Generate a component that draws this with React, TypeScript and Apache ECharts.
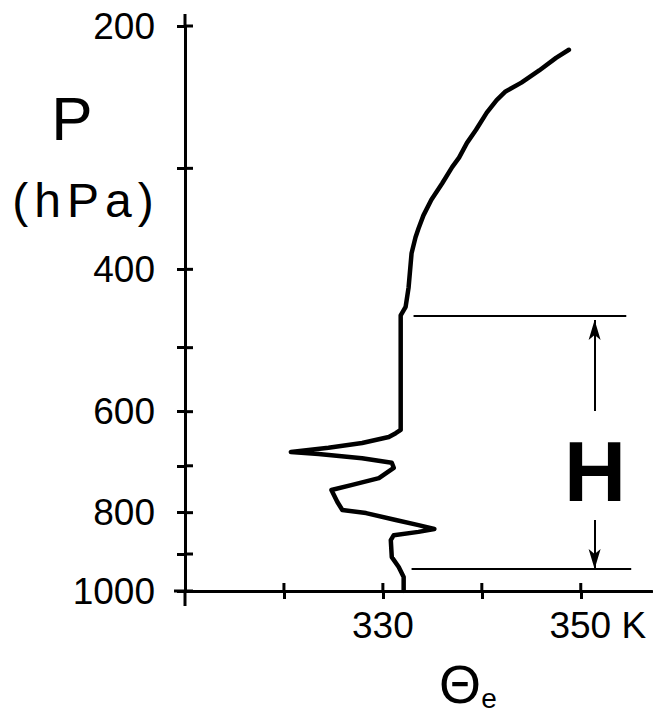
import React, { useEffect, useRef } from "react";
import * as echarts from "echarts";

// Pressure axis (hPa, log scale, inverted)
const PRESSURE_TICKS = [200, 300, 400, 500, 600, 700, 800, 900, 1000];
const PRESSURE_LABELS = [200, 400, 600, 800, 1000];
// Theta-e axis (K)
const THETA_TICKS = [320, 330, 340, 350];
const THETA_LABELS = [330, 350];
const THETA_MIN = 310;
const THETA_MAX = 357.2;
const P_MIN = 200;
const P_MAX = 1000;

// Sounding profile: equivalent potential temperature (K) vs pressure (hPa)
const thetaE = [
  348.8, 347.5, 345.8, 344.0, 342.4, 341.5, 340.5, 339.4, 338.5, 337.7, 337.0,
  336.0, 334.9, 334.1, 333.6, 333.3, 332.9, 332.6, 332.3, 331.8, 331.8, 331.8,
  331.3, 330.6, 327.9, 324.5, 320.7, 323.5, 327.9, 330.9, 331.1, 329.6, 326.9,
  324.8, 325.4, 325.9, 328.3, 331.3, 333.6, 335.2, 333.6, 331.1, 330.8, 330.9,
  331.6, 332.1, 332.1,
];
const pressure = [
  214, 219, 227, 235, 241, 247, 256, 269, 279, 291, 299,
  313, 328, 343, 356, 365, 382, 421, 445, 456, 480, 632,
  638, 645, 656, 665, 673, 677, 685, 694, 704, 725, 739,
  750, 776, 794, 801, 817, 829, 838, 845, 853, 865, 908,
  934, 961, 1000,
];

// Layer "H" markers
const LAYER_TOP_P = 456;
const LAYER_BOTTOM_P = 939;
const LAYER_TOP_X = [333.1, 354.6];
const LAYER_BOTTOM_X = [332.9, 355.1];
const ARROW_X = 351.4;
const ARROW_UP = [599, 462];
const ARROW_DOWN = [817, 939];

const FONT = "'Liberation Sans', Arial, Helvetica, sans-serif";

export default function App() {
  const ref = useRef<HTMLDivElement>(null);

  useEffect(() => {
    document.body.style.margin = "0";
    const chart = echarts.init(ref.current!, null, { renderer: "svg" });
    const data = thetaE.map((t, i) => [t, pressure[i]]);
    const tickStyle = { color: "#000", width: 3 };

    // inner halves of the crossing tick marks, placed through the axes' scales
    const innerTicks = (values: number[][], dir: "x" | "y") => ({
      type: "custom",
      coordinateSystem: "cartesian2d",
      silent: true,
      clip: false,
      z: 10,
      data: values,
      renderItem: (_params: any, api: any) => {
        const pt = api.coord([api.value(0), api.value(1)]);
        const shape =
          dir === "y"
            ? { x1: pt[0], y1: pt[1], x2: pt[0] + 8, y2: pt[1] }
            : { x1: pt[0], y1: pt[1], x2: pt[0], y2: pt[1] - 8 };
        return { type: "line", shape, style: { stroke: "#000", lineWidth: 3 } };
      },
    });

    chart.setOption({
      animation: false,
      textStyle: { fontFamily: FONT },
      grid: { left: 185, right: 1, top: 26, bottom: 122, containLabel: false },
      xAxis: {
        type: "value",
        min: THETA_MIN,
        max: THETA_MAX,
        splitLine: { show: false },
        axisLine: { show: true, onZero: false, lineStyle: { color: "#000", width: 3 } },
        axisTick: { show: true, customValues: THETA_TICKS, length: 8, lineStyle: tickStyle },
        axisLabel: {
          show: true,
          customValues: THETA_LABELS,
          margin: 16,
          color: "#000",
          fontSize: 37,
          fontFamily: FONT,
          formatter: (v: number) => (v === 350 ? "{p|\u00a0}350 K" : String(v)),
          rich: { p: { width: 34, fontSize: 37 } },
        },
      },
      yAxis: {
        type: "log",
        logBase: 10,
        min: P_MIN,
        max: P_MAX,
        inverse: true,
        splitLine: { show: false },
        axisLine: { show: true, onZero: false, lineStyle: { color: "#000", width: 3 } },
        axisTick: { show: true, customValues: PRESSURE_TICKS, length: 8, lineStyle: tickStyle },
        axisLabel: {
          show: true,
          customValues: PRESSURE_LABELS,
          margin: 30,
          color: "#000",
          fontSize: 37,
          fontFamily: FONT,
          formatter: (v: number) => String(Math.round(v)),
        },
      },
      series: [
        {
          type: "line",
          data,
          showSymbol: false,
          symbol: "none",
          lineStyle: { color: "#000", width: 4.5, join: "round", cap: "round" },
          markLine: {
            silent: true,
            symbol: ["none", "none"],
            label: { show: false },
            lineStyle: { color: "#000", width: 2, type: "solid" },
            data: [
              [{ coord: [LAYER_TOP_X[0], LAYER_TOP_P] }, { coord: [LAYER_TOP_X[1], LAYER_TOP_P] }],
              [{ coord: [LAYER_BOTTOM_X[0], LAYER_BOTTOM_P] }, { coord: [LAYER_BOTTOM_X[1], LAYER_BOTTOM_P] }],
              [
                { coord: [ARROW_X, ARROW_UP[0]], symbol: "none" },
                { coord: [ARROW_X, ARROW_UP[1]], symbol: "arrow", symbolSize: [9, 20] },
              ],
              [
                { coord: [ARROW_X, ARROW_DOWN[0]], symbol: "none" },
                { coord: [ARROW_X, ARROW_DOWN[1]], symbol: "arrow", symbolSize: [9, 20] },
              ],
            ],
          },
        },
        innerTicks(PRESSURE_TICKS.map((p) => [THETA_MIN, p]), "y"),
        innerTicks(THETA_TICKS.map((t) => [t, P_MAX]), "x"),
      ],
      graphic: [
        { type: "line", shape: { x1: 185, y1: 14, x2: 185, y2: 26 }, style: { stroke: "#000", lineWidth: 3 } },
        { type: "line", shape: { x1: 185, y1: 591, x2: 185, y2: 606 }, style: { stroke: "#000", lineWidth: 3 } },
        { type: "line", shape: { x1: 174, y1: 591, x2: 185, y2: 591 }, style: { stroke: "#000", lineWidth: 3 } },
        { type: "text", x: 72, y: 118, style: { text: "P", font: `62px ${FONT}`, fill: "#000", align: "center", verticalAlign: "middle" } },
        {
          type: "text",
          x: 83,
          y: 200,
          style: {
            text: "{a|(}{a|h}{a|P}{a|a}{a|)}",
            fill: "#000",
            align: "center",
            verticalAlign: "middle",
            rich: { a: { fontSize: 48, fontFamily: FONT, padding: [0, 3, 0, 3], fill: "#000" } },
          },
        },
        { type: "text", x: 460, y: 684, style: { text: "Θ", font: `54px ${FONT}`, lineHeight: 44, fill: "#000", align: "center", verticalAlign: "middle" } },
        { type: "text", x: 489, y: 698, style: { text: "e", font: `28px ${FONT}`, lineHeight: 22, fill: "#000", align: "center", verticalAlign: "middle" } },
        { type: "text", x: 595, y: 471, style: { text: "H", font: `bold 86px ${FONT}`, fill: "#000", align: "center", verticalAlign: "middle" } },
      ],
    });

    return () => chart.dispose();
  }, []);

  return <div ref={ref} style={{ width: 653, height: 713 }} />;
}
